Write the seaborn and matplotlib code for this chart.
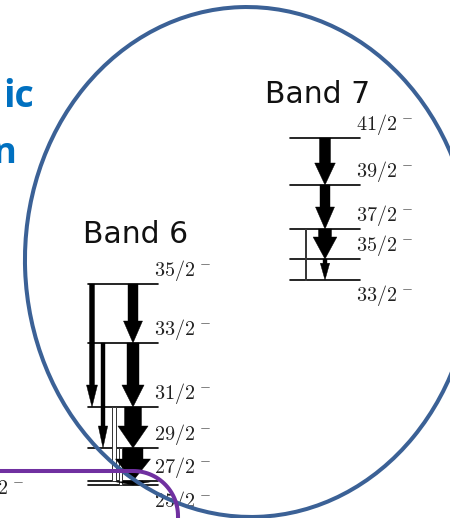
import numpy as np
import pandas as pd
import matplotlib
matplotlib.use("Agg")
import matplotlib.pyplot as plt
import seaborn as sns
from matplotlib.patches import Ellipse, PathPatch
from matplotlib.path import Path

sns.set_theme(style="white")
plt.rcParams["font.family"] = ["DejaVu Sans"]
plt.rcParams["mathtext.fontset"] = "cm"

# ---- level data (excitation energy in keV) ----
band6_spins = ["25/2", "27/2", "29/2", "31/2", "33/2", "35/2"]
band6_energy = [3000, 3040, 3370, 3780, 4420, 5010]
band7_spins = ["33/2", "35/2", "37/2", "39/2", "41/2"]
band7_energy = [5050, 5260, 5560, 6000, 6470]

# ---- gamma transitions: band, initial spin, final spin, intensity, tentative ----
tr_band = [6, 6, 6, 6, 6, 6, 6, 6, 6, 7, 7, 7, 7, 7]
tr_from = ["29/2", "31/2", "35/2", "33/2", "35/2", "33/2", "31/2", "29/2", "27/2",
           "37/2", "41/2", "39/2", "37/2", "35/2"]
tr_to = ["25/2", "27/2", "31/2", "29/2", "33/2", "31/2", "29/2", "27/2", "25/2",
         "33/2", "39/2", "37/2", "35/2", "33/2"]
tr_intensity = [6, 8, 10, 8, 20, 24, 34, 40, 40, 2, 22, 20, 26, 8]
tr_tentative = [True, True, False, False, False, False, False, False, False,
                True, False, False, False, False]

# ---- layout ----
band_left = {6: 88, 7: 290}
band_right = {6: 158, 7: 360}
lane = [32, 26, 4, 15, 45, 45, 45, 45, 45, 15, 35, 35, 35, 35]
KEV_PER_PX = 10.0

levels = {6: dict(zip(band6_spins, band6_energy)), 7: dict(zip(band7_spins, band7_energy))}

fig = plt.figure(figsize=(4.5, 5.18), dpi=100)
fig.patch.set_facecolor("white")
ax = fig.add_axes([0, 0, 1, 1])
ax.set_xlim(0, 450)
ax.set_ylim(2670, 7850)
ax.set_facecolor("white")

# level lines
rows = []
for b, spins, energies in [(6, band6_spins, band6_energy), (7, band7_spins, band7_energy)]:
    for s, e in zip(spins, energies):
        rows.append({"x": band_left[b], "E": e, "lvl": f"{b}-{s}"})
        rows.append({"x": band_right[b], "E": e, "lvl": f"{b}-{s}"})
lv = pd.DataFrame(rows)
sns.lineplot(data=lv, x="x", y="E", units="lvl", estimator=None, sort=False,
             color="black", lw=1.2, legend=False, ax=ax)

# transitions: tentative ones as open, headless outlines; the rest as filled arrows
order = np.argsort([not t for t in tr_tentative], kind="stable")
for i in order:
    b = tr_band[i]
    e0 = levels[b][tr_from[i]]
    e1 = levels[b][tr_to[i]]
    x = band_left[b] + lane[i]
    w = tr_intensity[i] * 0.5
    length_px = (e0 - e1) / KEV_PER_PX
    if tr_tentative[i]:
        ax.arrow(x, e0, 0, e1 - e0, width=w, head_width=w, head_length=0.0,
                 length_includes_head=True, fc="white", ec="#333333", lw=0.7, zorder=2)
    else:
        hw = w * 1.6 + 3
        hl = min(22.0, 0.8 * length_px) * KEV_PER_PX
        ax.arrow(x, e0, 0, e1 - e0, width=w, head_width=hw, head_length=hl,
                 length_includes_head=True, fc="black", ec="black", lw=0.3, zorder=3)

# spin labels
for b, spins, energies in [(6, band6_spins, band6_energy), (7, band7_spins, band7_energy)]:
    lowest = min(energies)
    for s, e in zip(spins, energies):
        off = -160 if e == lowest else 135
        ax.text(band_right[b] - 4, e + off, rf"${s}^{{\,-}}$", fontsize=14.5,
                color="#222222", ha="left", va="center", zorder=4)
ax.axis("off")

# overlay in pixel coordinates
ov = fig.add_axes([0, 0, 1, 1], zorder=5)
ov.set_xlim(0, 450)
ov.set_ylim(518, 0)
ov.axis("off")
ov.patch.set_alpha(0)

ov.text(83, 243, "Band 6", fontsize=21.5, color="#111111", ha="left", va="baseline")
ov.text(265, 103, "Band 7", fontsize=21.5, color="#111111", ha="left", va="baseline")
ov.text(34, 107, "ic", fontsize=27, fontweight="bold", family="Open Sans",
        color="#0070C0", ha="right", va="baseline")
ov.text(16, 163, "n", fontsize=26, fontweight="bold", family="Open Sans",
        color="#0070C0", ha="right", va="baseline")
ov.text(-3, 488, r"$2^{\,-}$", fontsize=14.5, color="#222222", ha="left", va="center")

ov.add_patch(Ellipse((249, 262), 448, 510, angle=-2, fill=False, ec="#3B6196",
                     lw=2.9, zorder=6))

r = 45
theta = np.linspace(np.pi / 2, 0, 30)
cx, cy = 133, 471 + r
px = np.concatenate([[-10], cx + r * np.cos(theta), [cx + r]])
py = np.concatenate([[471], cy - r * np.sin(theta), [530]])
ov.add_patch(PathPatch(Path(np.column_stack([px, py])), fill=False,
                       ec="#7030A0", lw=2.9, zorder=7, capstyle="butt"))

fig.savefig("out.png", dpi=100, facecolor="white")
